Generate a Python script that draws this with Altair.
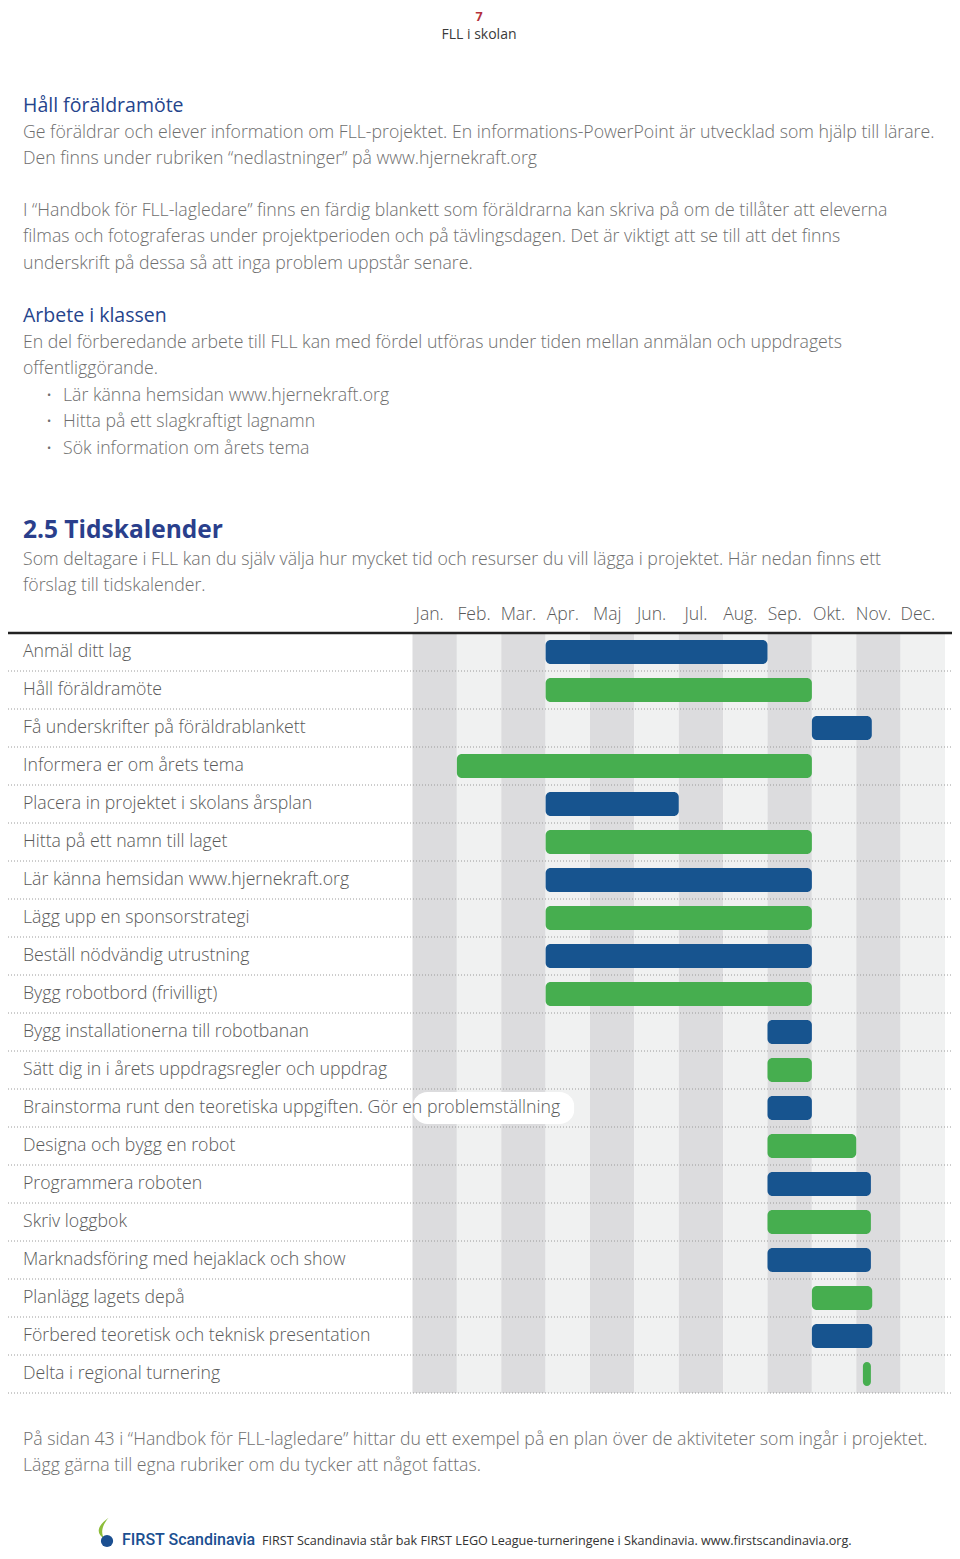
import altair as alt
import pandas as pd

# ---------------- content ----------------
page_number = "7"
page_header = "FLL i skolan"

heading_1 = "Håll föräldramöte"
para_1 = [
    "Ge föräldrar och elever information om FLL-projektet. En informations-PowerPoint är utvecklad som hjälp till lärare.",
    "Den finns under rubriken “nedlastninger” på www.hjernekraft.org",
]
para_2 = [
    "I “Handbok för FLL-lagledare” finns en färdig blankett som föräldrarna kan skriva på om de tillåter att eleverna",
    "filmas och fotograferas under projektperioden och på tävlingsdagen. Det är viktigt att se till att det finns",
    "underskrift på dessa så att inga problem uppstår senare.",
]
heading_2 = "Arbete i klassen"
para_3 = [
    "En del förberedande arbete till FLL kan med fördel utföras under tiden mellan anmälan och uppdragets",
    "offentliggörande.",
]
bullets = [
    "Lär känna hemsidan  www.hjernekraft.org",
    "Hitta på ett slagkraftigt lagnamn",
    "Sök information om årets tema",
]
title = "2.5 Tidskalender"
para_4 = [
    "Som deltagare i FLL kan du själv välja hur mycket tid och resurser du vill lägga i projektet. Här nedan finns ett",
    "förslag till tidskalender.",
]
para_5 = [
    "På sidan 43 i “Handbok för FLL-lagledare” hittar du ett exempel på en plan över de aktiviteter som ingår i projektet.",
    "Lägg gärna till egna rubriker om du tycker att något fattas.",
]
brand = "FIRST Scandinavia"
footer = "FIRST Scandinavia står bak FIRST LEGO League-turneringene i Skandinavia. www.firstscandinavia.org."

months = ["Jan.", "Feb.", "Mar.", "Apr.", "Maj", "Jun.", "Jul.", "Aug.", "Sep.", "Okt.", "Nov.", "Dec."]
month_shade = ["mörk", "ljus", "mörk", "ljus", "mörk", "ljus", "mörk", "ljus", "mörk", "ljus", "mörk", "ljus"]

tasks = [
    "Anmäl ditt lag",
    "Håll föräldramöte",
    "Få underskrifter på föräldrablankett",
    "Informera er om årets tema",
    "Placera in projektet i skolans årsplan",
    "Hitta på ett namn till laget",
    "Lär känna hemsidan www.hjernekraft.org",
    "Lägg upp en sponsorstrategi",
    "Beställ nödvändig utrustning",
    "Bygg robotbord (frivilligt)",
    "Bygg installationerna till robotbanan",
    "Sätt dig in i årets uppdragsregler och uppdrag",
    "Brainstorma runt den teoretiska uppgiften. Gör en problemställning",
    "Designa och bygg en robot",
    "Programmera roboten",
    "Skriv loggbok",
    "Marknadsföring med hejaklack och show",
    "Planlägg lagets depå",
    "Förbered teoretisk och teknisk presentation",
    "Delta i regional turnering",
]
# start / end in months from 1 January (0 = start of Jan, 12 = end of Dec)
starts = [3, 3, 9, 1, 3, 3, 3, 3, 3, 3, 8, 8, 8, 8, 8, 8, 8, 9, 9, 10.15]
ends = [8, 9, 10.35, 9, 6, 9, 9, 9, 9, 9, 9, 9, 9, 10, 10.33, 10.33, 10.33, 10.36, 10.36, 10.33]
kinds = ["blå", "grön", "blå", "grön", "blå", "grön", "blå", "grön", "blå", "grön",
         "blå", "grön", "blå", "grön", "blå", "grön", "blå", "grön", "blå", "grön"]
# white label background behind the long label (in months)
label_bg_task = ["Brainstorma runt den teoretiska uppgiften. Gör en problemställning"]
label_bg_end = [3.65]

# ---------------- layout ----------------
W, H = 944, 1540
OX, OY = 8, 8
FONT = "Open Sans"
BODY = "#6e6e6e"
LABEL = "#595959"
BLUE_HEAD = "#25448c"
LIGHT = 300

x_scale = alt.Scale(domain=[0, 12], range=[412.5 - OX, 945 - OX])
y_scale = alt.Scale(domain=tasks, range=[633 - OY, 1393 - OY], paddingInner=0, paddingOuter=0)


def lines_df(lines, x0, y0, step):
    return pd.DataFrame({
        "text": lines,
        "px": [x0 - OX] * len(lines),
        "py": [y0 - OY + i * step for i in range(len(lines))],
    })


def text_layer(df, size, color, weight="normal", align="left", font=FONT):
    return alt.Chart(df).mark_text(
        align=align, baseline="middle", fontSize=size, color=color,
        fontWeight=weight, font=font,
    ).encode(
        x=alt.X("px:Q", scale=None, axis=None),
        y=alt.Y("py:Q", scale=None, axis=None),
        text="text:N",
    )


LS = 26.3
BS = 17.7
layers = []

# header
layers.append(text_layer(lines_df([page_number], 479, 17, 0), 12.5, "#b5323c", "bold", "center"))
layers.append(text_layer(lines_df([page_header], 479, 35, 0), 14, "#3a3a3a", "normal", "center"))

# section 1
layers.append(text_layer(lines_df([heading_1, heading_2], 23, 106, 210), 19.5, BLUE_HEAD))
layers.append(text_layer(lines_df(para_1, 23, 132.5, LS), BS, BODY, LIGHT))
layers.append(text_layer(lines_df(para_2, 23, 211, LS), BS, BODY, LIGHT))
layers.append(text_layer(lines_df(para_3, 23, 343, LS), BS, BODY, LIGHT))
layers.append(text_layer(lines_df(["•"] * len(bullets), 47, 396, LS), 11, BODY))
layers.append(text_layer(lines_df(bullets, 63, 396, LS), BS, BODY, LIGHT))

# section 2.5
layers.append(text_layer(lines_df([title], 23, 531, 0), 24.5, "#2a3f8c", "bold"))
layers.append(text_layer(lines_df(para_4, 23, 560, LS), BS, BODY, LIGHT))
layers.append(text_layer(lines_df(para_5, 23, 1440, LS), BS, BODY, LIGHT))

# footer
layers.append(text_layer(lines_df([brand], 122, 1540, 0), 16, "#1b4f91", 500, font="Roboto"))
layers.append(text_layer(lines_df([footer], 262, 1541, 0), 12.6, "#333333"))

# logo
flame = "M 0.25 -1 C -1 -0.1 -0.9 0.6 -0.2 1 C -0.55 0.4 -0.35 -0.3 0.25 -1 Z"
logo_df = pd.DataFrame({"px": [106 - OX], "py": [1528 - OY]})
layers.append(alt.Chart(logo_df).mark_point(shape=flame, filled=True, size=420, color="#8dbd3a", opacity=1).encode(
    x=alt.X("px:Q", scale=None, axis=None), y=alt.Y("py:Q", scale=None, axis=None)))
drop_df = pd.DataFrame({"px": [107 - OX], "py": [1541 - OY]})
layers.append(alt.Chart(drop_df).mark_point(shape="circle", filled=True, size=150, color="#1b4f91", opacity=1).encode(
    x=alt.X("px:Q", scale=None, axis=None), y=alt.Y("py:Q", scale=None, axis=None)))

# ---------------- gantt ----------------
cells = pd.DataFrame([
    {"m0": i, "m1": i + 1, "shade": month_shade[i], "task": t}
    for i in range(12) for t in tasks
])
stripes = alt.Chart(cells).mark_rect(strokeWidth=0).encode(
    x=alt.X("m0:Q", scale=x_scale, axis=None),
    x2="m1:Q",
    y=alt.Y("task:N", scale=y_scale, axis=None),
    color=alt.Color("shade:N", scale=alt.Scale(domain=["mörk", "ljus"], range=["#dcdcde", "#f0f1f1"]), legend=None),
)

bg_df = pd.DataFrame({"task": label_bg_task, "end": label_bg_end})
label_bg = alt.Chart(bg_df).mark_bar(color="white", cornerRadius=15, height=32).encode(
    x=alt.X("end:Q", scale=x_scale, axis=None),
    x2=alt.value(0),
    y=alt.Y("task:N", scale=y_scale, axis=None),
)

gantt_df = pd.DataFrame({"task": tasks, "start": starts, "end": ends, "kind": kinds})
bars = alt.Chart(gantt_df).mark_bar(cornerRadius=5, height=24).encode(
    x=alt.X("start:Q", scale=x_scale, axis=None),
    x2="end:Q",
    y=alt.Y("task:N", scale=y_scale, axis=None),
    color=alt.Color("kind:N", scale=alt.Scale(domain=["blå", "grön"], range=["#17548f", "#46ae4f"]), legend=None),
)

rules_df = pd.DataFrame({"task": tasks})
dotted = alt.Chart(rules_df).mark_rule(color="#9a9a9a", strokeDash=[1, 2], strokeWidth=1).encode(
    y=alt.Y("task:N", scale=y_scale, axis=None, bandPosition=1),
    x=alt.value(0),
    x2=alt.value(W),
)
top_df = pd.DataFrame({"task": tasks[:1]})
top_rule = alt.Chart(top_df).mark_rule(color="#222222", strokeWidth=2.5).encode(
    y=alt.Y("task:N", scale=y_scale, axis=None, bandPosition=0),
    x=alt.value(0),
    x2=alt.value(W),
)

labels = alt.Chart(rules_df).mark_text(
    align="left", baseline="middle", fontSize=17.7, color=LABEL, font=FONT, fontWeight=LIGHT
).encode(
    y=alt.Y("task:N", scale=y_scale, axis=None),
    x=alt.value(23 - OX),
    text="task:N",
)

month_df = pd.DataFrame({"month": months, "mid": [i + 0.5 for i in range(12)]})
month_labels = alt.Chart(month_df).mark_text(
    align="center", baseline="middle", fontSize=17.6, color=LABEL, font=FONT, fontWeight=LIGHT, dx=-5
).encode(
    x=alt.X("mid:Q", scale=x_scale, axis=None),
    y=alt.value(615 - OY),
    text="month:N",
)

chart = alt.layer(
    stripes, label_bg, dotted, top_rule, bars, labels, month_labels, *layers
).resolve_scale(
    x="independent", y="independent", color="independent"
).properties(
    width=W, height=H, padding=0, autosize=alt.AutoSizeParams(type="none"),
    background="white",
).configure_view(stroke=None)

chart.save("out.html", embed_options={"renderer": "svg", "actions": False})
